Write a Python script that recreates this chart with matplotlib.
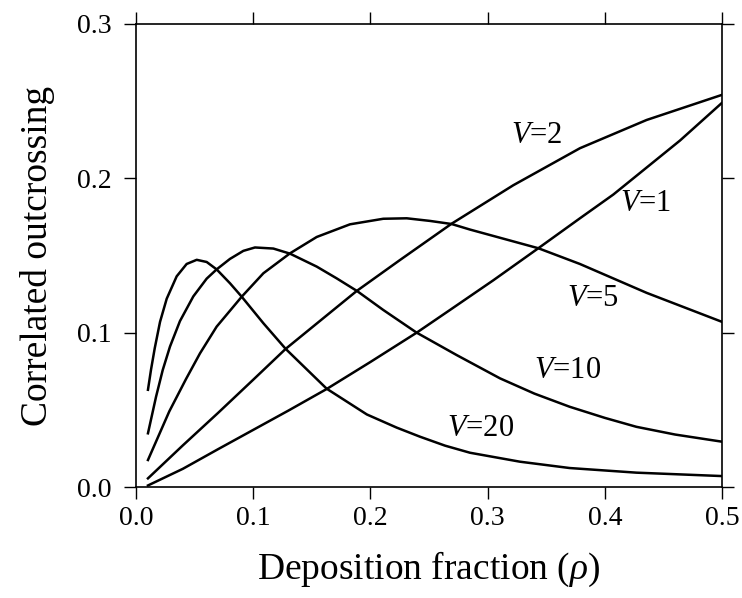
import numpy as np
import matplotlib
matplotlib.use('Agg')
import matplotlib.pyplot as plt

plt.rcParams['font.family'] = 'Liberation Serif'
plt.rcParams['mathtext.fontset'] = 'custom'
plt.rcParams['mathtext.rm'] = 'Liberation Serif'
plt.rcParams['mathtext.it'] = 'Liberation Serif:italic'

# values
rho_v1 = [0.0102, 0.04, 0.07, 0.1, 0.13, 0.1627, 0.2, 0.2395, 0.2679, 0.305, 0.3433, 0.3788, 0.4073,
          0.4642, 0.4997]
out_v1 = [0.001, 0.0118, 0.0245, 0.037, 0.0495, 0.0635, 0.081, 0.1, 0.1147, 0.134, 0.1547, 0.1741, 0.1895,
          0.2245, 0.2487]

rho_v2 = [0.0102, 0.04, 0.07, 0.1, 0.1277, 0.1684, 0.1883, 0.2253, 0.2693, 0.3219, 0.3788, 0.4357, 0.4997]
out_v2 = [0.0056, 0.027, 0.048, 0.0695, 0.0895, 0.1147, 0.127, 0.1471, 0.1706, 0.1955, 0.2195, 0.2378, 0.254]

rho_v5 = [0.0102, 0.0284, 0.0427, 0.0546, 0.0688, 0.0902, 0.1087, 0.1314, 0.1542, 0.1826, 0.211, 0.231,
          0.2509, 0.2693, 0.285, 0.3433, 0.3788, 0.4357, 0.4997]
out_v5 = [0.0175, 0.049, 0.070, 0.0866, 0.1039, 0.1233, 0.1385, 0.1514, 0.162, 0.1702, 0.1738, 0.1741,
          0.1724, 0.1704, 0.1668, 0.1547, 0.1445, 0.1258, 0.1071]

rho_v10 = [0.0102, 0.0171, 0.0228, 0.029, 0.0375, 0.0489, 0.0603, 0.0688, 0.0802, 0.0916, 0.1015, 0.1172,
           0.1314, 0.1542, 0.1712, 0.1886, 0.211, 0.2395, 0.2736, 0.3106, 0.34, 0.37, 0.40, 0.427, 0.46,
           0.4997]
out_v10 = [0.0348, 0.0585, 0.0758, 0.091, 0.1075, 0.1235, 0.135, 0.141, 0.1478, 0.153, 0.1552, 0.1545,
           0.1512, 0.1428, 0.1352, 0.127, 0.1147, 0.1, 0.0855, 0.0704, 0.0605, 0.052, 0.0448, 0.039, 0.034,
           0.0294]

rho_v20 = [0.0102, 0.0128, 0.016, 0.0205, 0.0262, 0.0347, 0.0432, 0.0518, 0.0603, 0.0688, 0.0802, 0.0902,
           0.1087, 0.1277, 0.1627, 0.197, 0.2224, 0.2423, 0.2637, 0.285, 0.3276, 0.37, 0.427, 0.4997]
out_v20 = [0.063, 0.076, 0.09, 0.107, 0.122, 0.1365, 0.1445, 0.1472, 0.1458, 0.141, 0.132, 0.1233,
           0.1061, 0.0895, 0.0637, 0.047, 0.0385, 0.0326, 0.0268, 0.0222, 0.0164, 0.0123, 0.0093, 0.0071]

curves = [(rho_v1, out_v1), (rho_v2, out_v2), (rho_v5, out_v5), (rho_v10, out_v10), (rho_v20, out_v20)]

# curve labels: text, x, y
label_txt = ['$V$=1', '$V$=2', '$V$=5', '$V$=10', '$V$=20']
label_x = [0.435, 0.342, 0.390, 0.368, 0.294]
label_y = [0.184, 0.228, 0.122, 0.0758, 0.038]

xticks = [0.0, 0.1, 0.2, 0.3, 0.4, 0.5]
yticks = [0.0, 0.1, 0.2, 0.3]

fig = plt.figure(figsize=(7.42, 5.98), dpi=100)
ax = fig.add_axes([0.1833, 0.1856, 0.973 - 0.1833, 0.9599 - 0.1856])

for r, o in curves:
    ax.plot(r, o, color='black', lw=1.8, solid_joinstyle='round')

for t, x, y in zip(label_txt, label_x, label_y):
    ax.text(x, y, t, fontsize=22, ha='center', va='center')

ax.set_xlim(0, 0.5)
ax.set_ylim(0, 0.3)
ax.set_xticks(xticks)
ax.set_yticks(yticks)
ax.set_xticklabels(['%.1f' % v for v in xticks])
ax.set_yticklabels(['%.1f' % v for v in yticks])

ax.tick_params(which='major', direction='out', length=8.5, width=1.0,
               top=True, right=True, labelsize=20)
ax.tick_params(axis='x', pad=5)
ax.tick_params(axis='y', pad=9)
for s in ax.spines.values():
    s.set_linewidth(1.2)

ax.set_xlabel('Deposition fraction ($\\rho$)', fontsize=27, labelpad=14)
ax.set_ylabel('Correlated outcrossing', fontsize=27, labelpad=16)

fig.savefig('out.png', dpi=100)
